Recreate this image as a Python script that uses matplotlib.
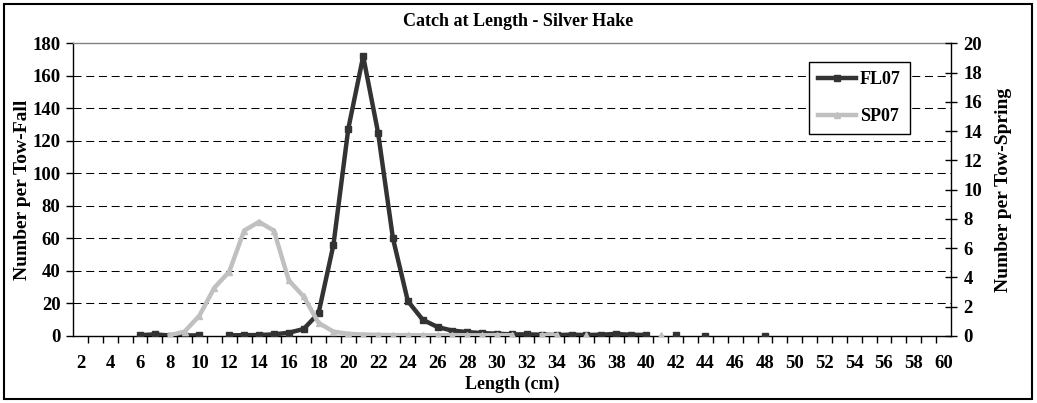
import numpy as np
import matplotlib
matplotlib.use("Agg")
import matplotlib.pyplot as plt
from matplotlib.patches import Rectangle

# ---------- data: catch per tow by length class ----------
nan = np.nan
lengths = list(range(2, 61))

# Fall 2007 (left axis)
fl07 = [
    nan, nan, nan, nan,                     # 2-5
    0.5, 1.0, 0.3, 0.3, 0.4, nan,           # 6-11
    0.4, 0.5, 0.6, 1.0, 2.0, 4.3, 14.0,     # 12-18
    56.0, 127.5, 172.0, 125.0, 60.0, 21.5,  # 19-24
    10.0, 5.5, 3.3, 2.4, 1.8, 1.4, 1.0,     # 25-31
    1.0, 0.8, 0.6, 0.8, 0.6, 0.8, 1.3,      # 32-38
    0.7, 0.7, nan, 0.6, nan, 0.3,           # 39-44
    nan, nan, nan, 0.3,                     # 45-48
] + [nan] * 12                              # 49-60

# Spring 2007 (right axis)
sp07 = [
    nan, nan, nan, nan, nan, nan,           # 2-7
    0.05, 0.3, 1.4, 3.3, 4.4, 7.2, 7.8,     # 8-14
    7.2, 3.8, 2.7, 0.9, 0.3, 0.15, 0.1,     # 15-21
    0.08, 0.06, 0.06, 0.05, 0.05, 0.06,     # 22-27
    0.05, 0.05, 0.06, 0.05,                 # 28-31
    nan, 0.05, 0.05, nan, 0.1,              # 32-36
    nan, nan, nan, nan, 0.05,               # 37-41
] + [nan] * 19                              # 42-60

left_ticks = list(range(0, 181, 20))
right_ticks = list(range(0, 21, 2))

DARK = "#333333"
LIGHT = "#c0c0c0"
TICK_FS = 13.5

plt.rcParams.update({
    "font.family": ["Liberation Serif", "DejaVu Serif"],
    "font.weight": "bold",
    "axes.labelweight": "bold",
})

W, H = 1037, 403
fig = plt.figure(figsize=(W / 100, H / 100), dpi=100)

x0, x1 = 73, 951
y0, y1 = 43.3, 336
ax = fig.add_axes([x0 / W, (H - y1) / H, (x1 - x0) / W, (y1 - y0) / H])
ax2 = ax.twinx()

# Fall series on the primary axis
l1, = ax.plot(lengths, fl07, color=DARK, lw=3.2, marker="s", ms=4.8,
              mec=DARK, mfc=DARK, label="FL07", zorder=3)
# Spring series on the secondary axis
l2, = ax2.plot(lengths, sp07, color=LIGHT, lw=3.2, marker="^", ms=5,
               mec=LIGHT, mfc=LIGHT, label="SP07", zorder=3)

ax.set_xlim(1.5, 60.5)
ax.set_ylim(0, 180)
ax2.set_ylim(0, 20)

# category axis: labels at even lengths, tick marks between categories
ax.set_xticks(range(2, 61, 2))
ax.set_xticks(np.arange(2.5, 60.5, 1), minor=True)
ax.tick_params(axis="x", which="major", length=0, pad=14, labelsize=TICK_FS)
ax.tick_params(axis="x", which="minor", length=5, width=1, direction="out")

ax.set_yticks(left_ticks)
ax.tick_params(axis="y", which="major", length=5, width=1, direction="out",
               pad=4, labelsize=TICK_FS)
ax2.set_yticks(right_ticks)
ax2.tick_params(axis="y", which="major", length=8, width=1, direction="inout",
                pad=5, labelsize=TICK_FS)

for a in (ax, ax2):
    for lab in a.get_xticklabels() + a.get_yticklabels():
        lab.set_fontweight("bold")

# dashed horizontal gridlines
for v in left_ticks[1:-1]:
    ax.axhline(v, color="black", lw=0.75, ls=(0, (7.7, 4.5)), zorder=1)

ax.spines["top"].set_color("#808080")
ax.spines["right"].set_visible(False)
for s in ("left", "bottom"):
    ax.spines[s].set_color("black")
    ax.spines[s].set_linewidth(1.0)
ax.spines["top"].set_linewidth(1.0)
for s in ("left", "bottom", "top"):
    ax2.spines[s].set_visible(False)
ax2.spines["right"].set_color("black")
ax2.spines["right"].set_linewidth(1.0)

ax.set_xlabel("Length (cm)", fontsize=13, fontweight="bold", labelpad=2)
ax.set_ylabel("Number per Tow-Fall", fontsize=14, fontweight="bold", labelpad=1)
ax2.set_ylabel("Number per Tow-Spring", fontsize=14, fontweight="bold", labelpad=9)

fig.text(0.5, 1 - 22 / H, "Catch at Length - Silver Hake", ha="center",
         va="center", fontsize=13, fontweight="bold")

leg = ax2.legend([l1, l2], ["FL07", "SP07"], loc="upper right",
                 bbox_to_anchor=(0.953, 0.936), borderaxespad=0,
                 prop={"size": 13, "weight": "bold"}, numpoints=1,
                 handlelength=2.1, handletextpad=0.2, labelspacing=1.1,
                 borderpad=0.5, fancybox=False, framealpha=1)
leg.get_frame().set_edgecolor("black")
leg.get_frame().set_linewidth(1.0)

# outer chart border
fig.patches.append(Rectangle((4 / W, 4 / H), (1032 - 4) / W, (399 - 4) / H,
                             transform=fig.transFigure, fill=False,
                             ec="black", lw=1.5))

fig.savefig("out.png", dpi=100)
